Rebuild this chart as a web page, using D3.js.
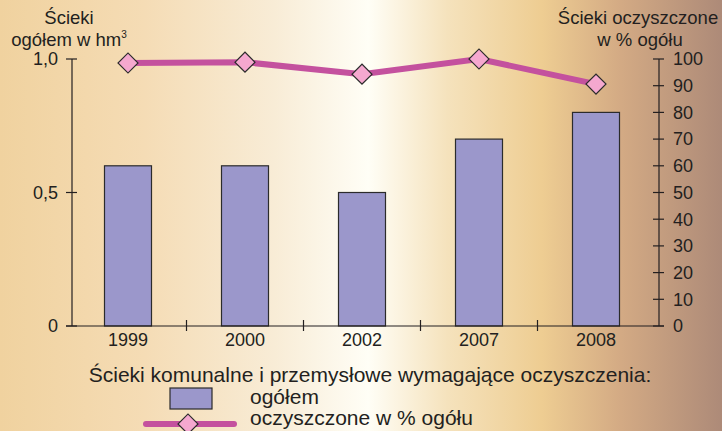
<!DOCTYPE html>
<html><head><meta charset="utf-8">
<script src="https://cdn.jsdelivr.net/npm/d3@7"></script>
<style>
html,body{margin:0;padding:0;}
svg{display:block;font-family:"Liberation Sans",Arial,sans-serif;}
</style></head>
<body>
<svg id="c" width="722" height="431"></svg>
<script>
const years = ["1999","2000","2002","2007","2008"];
const totals = [0.6, 0.6, 0.5, 0.7, 0.8];
const percents = [98.5, 98.8, 94.3, 100, 90.6];
const leftTicks = [0, 0.5, 1.0];
const leftTickLabels = ["0","0,5","1,0"];
const rightTicks = [0,10,20,30,40,50,60,70,80,90,100];

const svg = d3.select("#c");
const W = 722, H = 431;
const textColor = "#231f20";

// background gradient
const defs = svg.append("defs");
const g = defs.append("linearGradient").attr("id","bg").attr("x1","0").attr("x2","1").attr("y1","0").attr("y2","0");
[[0,"#f0d29f"],[0.2,"#f5dcb5"],[0.38,"#f8ecd6"],[0.51,"#fffef6"],[0.62,"#f5e2bc"],[0.75,"#eecd92"],[0.86,"#d3aa84"],[1,"#ad8a78"]]
  .forEach(([o,c])=>g.append("stop").attr("offset",o).attr("stop-color",c));
svg.append("rect").attr("width",W).attr("height",H).attr("fill","url(#bg)");

const x0 = 69.5, x1 = 654.5;
const axL = 72, axR = 659;
const yTop = 59, yBot = 326;
const x = d3.scaleBand().domain(years).range([x0,x1]).paddingInner(0).paddingOuter(0);
const yL = d3.scaleLinear().domain([0,1]).range([yBot,yTop]);
const yR = d3.scaleLinear().domain([0,100]).range([yBot,yTop]);
const barW = 47;

// bars
svg.append("g").selectAll("rect").data(years).join("rect")
  .attr("x", d=>x(d)+x.bandwidth()/2-barW/2)
  .attr("y", (d,i)=>yL(totals[i]))
  .attr("width", barW)
  .attr("height", (d,i)=>yBot-yL(totals[i]))
  .attr("fill","#9b97cb").attr("stroke","#2b2b2b").attr("stroke-width",1.2);

// axes
const ax = svg.append("g").attr("stroke",textColor).attr("stroke-width",1.2).attr("fill","none");
ax.append("line").attr("x1",axL).attr("x2",axL).attr("y1",yTop).attr("y2",yBot);
ax.append("line").attr("x1",axR).attr("x2",axR).attr("y1",yTop).attr("y2",yBot);
ax.append("line").attr("x1",axL-6).attr("x2",axR+5).attr("y1",yBot).attr("y2",yBot);
leftTicks.forEach(t=>{
  ax.append("line").attr("x1",axL-6).attr("x2",axL+5).attr("y1",yL(t)).attr("y2",yL(t));
});
rightTicks.forEach(t=>{
  ax.append("line").attr("x1",axR-6).attr("x2",axR+5).attr("y1",yR(t)).attr("y2",yR(t));
});
years.slice(1).forEach(d=>{
  ax.append("line").attr("x1",x(d)).attr("x2",x(d)).attr("y1",yBot-6).attr("y2",yBot+5);
});

const fs = 18;
svg.append("g").selectAll("text").data(leftTicks).join("text")
  .attr("x",58).attr("y",d=>yL(d)).attr("dy","0.35em").attr("text-anchor","end")
  .attr("font-size",fs).attr("fill",textColor).text((d,i)=>leftTickLabels[i]);
svg.append("g").selectAll("text").data(rightTicks).join("text")
  .attr("x",673).attr("y",d=>yR(d)).attr("dy","0.35em").attr("text-anchor","start")
  .attr("font-size",fs).attr("fill",textColor).text(d=>d);
svg.append("g").selectAll("text").data(years).join("text")
  .attr("x",d=>x(d)+x.bandwidth()/2).attr("y",346).attr("text-anchor","middle")
  .attr("font-size",fs).attr("fill",textColor).text(d=>d);

// axis titles
svg.append("text").attr("x",69).attr("y",24).attr("text-anchor","middle").attr("font-size",18.5).attr("fill",textColor).text("Ścieki");
const t2 = svg.append("text").attr("x",69).attr("y",46).attr("text-anchor","middle").attr("font-size",18.5).attr("fill",textColor);
t2.append("tspan").text("ogółem w hm");
t2.append("tspan").attr("font-size",10).attr("dy",-8).text("3");
svg.append("text").attr("x",638).attr("y",24).attr("text-anchor","middle").attr("font-size",18.5).attr("fill",textColor).text("Ścieki oczyszczone");
svg.append("text").attr("x",640).attr("y",46).attr("text-anchor","middle").attr("font-size",18.5).attr("fill",textColor).text("w % ogółu");

// line
const line = d3.line().x(d=>x(d.y)+x.bandwidth()/2).y(d=>yR(d.v));
const pts = years.map((y,i)=>({y, v:percents[i]}));
svg.append("path").datum(pts).attr("d",line).attr("fill","none").attr("stroke","#c4519e").attr("stroke-width",6);
const diamond = d3.symbol().type(d3.symbolSquare).size(200);
svg.append("g").selectAll("path").data(pts).join("path")
  .attr("d",diamond())
  .attr("transform",d=>`translate(${x(d.y)+x.bandwidth()/2},${yR(d.v)}) rotate(45)`)
  .attr("fill","#f5a8cf").attr("stroke","#2b2b2b").attr("stroke-width",1.2);

// legend
const lfs = 21;
svg.append("text").attr("x",370).attr("y",382).attr("text-anchor","middle").attr("font-size",lfs).attr("fill",textColor)
  .text("Ścieki komunalne i przemysłowe wymagające oczyszczenia:");
svg.append("rect").attr("x",170).attr("y",388).attr("width",42).attr("height",21)
  .attr("fill","#9b97cb").attr("stroke","#2b2b2b").attr("stroke-width",1.2);
svg.append("text").attr("x",250).attr("y",404).attr("font-size",lfs).attr("fill",textColor).text("ogółem");
svg.append("line").attr("x1",146).attr("x2",234).attr("y1",424).attr("y2",424)
  .attr("stroke","#c4519e").attr("stroke-width",6).attr("stroke-linecap","round");
svg.append("path").attr("d",diamond()).attr("transform","translate(188,424) rotate(45)")
  .attr("fill","#f5a8cf").attr("stroke","#2b2b2b").attr("stroke-width",1.2);
svg.append("text").attr("x",250).attr("y",425).attr("font-size",lfs).attr("fill",textColor).text("oczyszczone w % ogółu");
</script>
</body></html>
